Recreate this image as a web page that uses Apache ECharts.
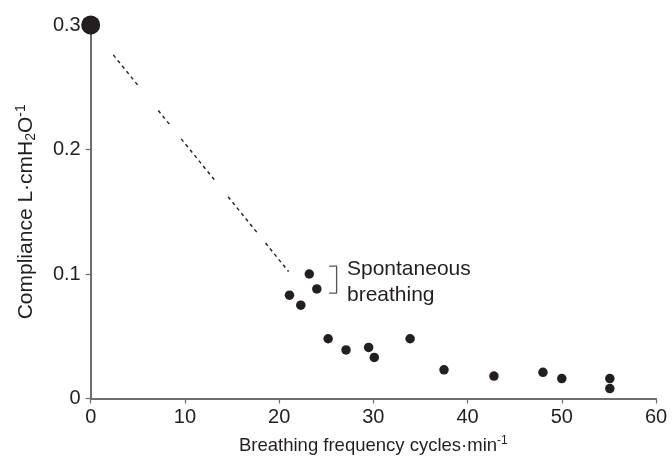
<!DOCTYPE html>
<html>
<head>
<meta charset="utf-8">
<script src="https://cdn.jsdelivr.net/npm/echarts@6/dist/echarts.min.js"></script>
<style>html,body{margin:0;padding:0;background:#fff}#c{width:672px;height:460px}</style>
</head>
<body>
<div id="c"></div>
<script>
// ---- data ----
var freqs = [21.1, 22.3, 23.2, 24.0, 25.2, 27.1, 29.5, 30.1, 33.9, 37.5, 42.8, 48.0, 50.0, 55.1, 55.1];
var compliance = [0.083, 0.075, 0.100, 0.088, 0.048, 0.039, 0.041, 0.033, 0.048, 0.023, 0.018, 0.021, 0.016, 0.016, 0.008];
var startPoint = [0, 0.3];
var trendX = [2.4, 21.0];
var trendY = [0.276, 0.102];
var bracketX = [25.3, 26.1, 26.1, 25.3];
var bracketY = [0.1064, 0.1064, 0.0846, 0.0846];
var noteLabel = 'Spontaneous\nbreathing';
var notePos = [27.2, 0.0934];
var xTicks = [0, 10, 20, 30, 40, 50, 60];
var yTicks = [0, 0.1, 0.2, 0.3];

var ink = '#231f20';
var axisCol = '#6d6e71';
var font = 'Liberation Sans';

// irregular dashed pattern resembling the original
function dashPattern() {
  var groups = [42, 24, 55, 46, 25], gaps = [33, 19, 22, 14];
  var arr = [];
  for (var g = 0; g < groups.length; g++) {
    var n = Math.max(1, Math.round(groups[g] / 7));
    for (var i = 0; i < n; i++) {
      arr.push(3.5);
      arr.push(i === n - 1 && g < gaps.length ? gaps[g] : 3.5);
    }
  }
  return arr;
}

var chart = echarts.init(document.getElementById('c'), null, {renderer: 'canvas'});
chart.setOption({
  animation: false,
  backgroundColor: '#fff',
  grid: {left: 90.7, right: 16, top: 25, bottom: 59, containLabel: false},
  xAxis: {
    type: 'value', min: xTicks[0], max: xTicks[xTicks.length - 1], interval: 10,
    name: 'Breathing frequency cycles·min{sup|-1}',
    nameLocation: 'middle', nameGap: 36,
    nameTextStyle: {color: ink, fontFamily: font, fontSize: 18.5,
      rich: {sup: {fontSize: 12, color: ink, fontFamily: font, padding: [0, 0, 10, 0]}}},
    axisLine: {lineStyle: {color: axisCol, width: 2}},
    axisTick: {show: true, length: 5, lineStyle: {color: axisCol, width: 1.2}},
    axisLabel: {color: ink, fontFamily: font, fontSize: 20, margin: 9},
    splitLine: {show: false}
  },
  yAxis: {
    type: 'value', min: yTicks[0], max: yTicks[yTicks.length - 1], interval: 0.1,
    name: 'Compliance L·cmH{sub|2}O{sup|-1}',
    nameLocation: 'middle', nameGap: 52, nameRotate: 90,
    nameTextStyle: {color: ink, fontFamily: font, fontSize: 21,
      rich: {
        sup: {fontSize: 14, color: ink, fontFamily: font, padding: [0, 0, 11, 0]},
        sub: {fontSize: 14, color: ink, fontFamily: font, padding: [9, 0, 0, 0]}
      }},
    axisLine: {show: true, lineStyle: {color: axisCol, width: 2}},
    axisTick: {show: true, length: 5, lineStyle: {color: axisCol, width: 1.2}},
    axisLabel: {color: ink, fontFamily: font, fontSize: 20, margin: 10,
      formatter: function (v) { return v === 0 ? '0' : v.toFixed(1); }},
    splitLine: {show: false}
  },
  series: [
    {
      type: 'line', data: trendX.map(function (x, i) { return [x, trendY[i]]; }),
      symbol: 'none', silent: true,
      lineStyle: {color: ink, width: 1.4, type: dashPattern()}
    },
    {
      type: 'line', data: bracketX.map(function (x, i) { return [x, bracketY[i]]; }),
      symbol: 'none', silent: true,
      lineStyle: {color: '#555', width: 1.3}
    },
    {
      type: 'scatter', data: freqs.map(function (x, i) { return [x, compliance[i]]; }),
      symbol: 'circle', symbolSize: 9.5, itemStyle: {color: ink, opacity: 1}
    },
    {
      type: 'scatter', data: [startPoint], clip: false, z: 10,
      symbol: 'circle', symbolSize: 19, itemStyle: {color: ink, opacity: 1}
    },
    {
      type: 'scatter', data: [notePos], symbolSize: 0, silent: true,
      itemStyle: {opacity: 1},
      label: {show: true, position: 'right', distance: 0, formatter: noteLabel,
        color: ink, fontFamily: font, fontSize: 21, lineHeight: 26, align: 'left'}
    }
  ]
});
</script>
</body>
</html>
